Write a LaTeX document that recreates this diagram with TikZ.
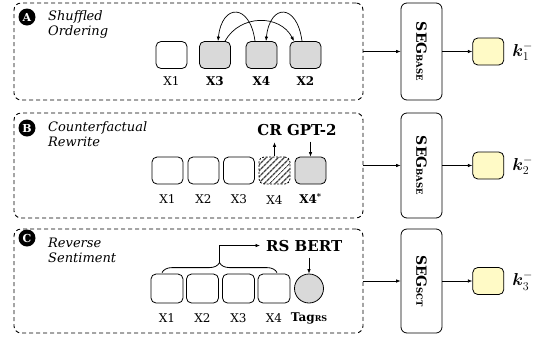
\documentclass[tikz,border=0pt]{standalone}
\usepackage{fontspec}
\setmainfont{DejaVu Serif}
\usepackage{amsmath}
\usepackage{bm}
\usetikzlibrary{calc, arrows.meta, positioning, patterns.meta, decorations.pathreplacing}
\definecolor{tokGray}{RGB}{217,217,217}
\definecolor{outYellow}{RGB}{255,250,198}
\tikzset{
	panelBox/.style={
		draw
		,line width=0.9pt
		,dash pattern=on 4pt off 3pt
		,rounded corners=7pt
		,inner sep=0pt
	},
	tokenBox/.style={
		draw
		,line width=0.8pt
		,rounded corners=5pt
		,minimum width=31pt
		,minimum height=27pt
		,inner sep=0pt
	},
	tokenGray/.style={tokenBox, fill=tokGray},
	tokenHatch/.style={
		tokenBox
		,dash pattern=on 2pt off 1.5pt
		,pattern={Lines[angle=45, distance=4pt, line width=1.5pt]}
		,pattern color=black!75
	},
	tagCircle/.style={
		draw
		,circle
		,line width=0.8pt
		,fill=tokGray
		,minimum size=29pt
		,inner sep=0pt
	},
	tokLabel/.style={
		font=\fontsize{12}{14}\selectfont
		,inner sep=0pt
	},
	badge/.style={
		circle
		,fill=black
		,text=white
		,font=\fontsize{11}{12}\selectfont\bfseries
		,minimum size=17pt
		,inner sep=0pt
	},
	titleText/.style={
		anchor=north west
		,align=left
		,inner sep=0pt
		,font=\fontsize{13}{15}\selectfont\itshape
	},
	modelText/.style={
		inner sep=0pt
		,font=\fontsize{15}{17}\selectfont\bfseries
	},
	segBox/.style={
		draw
		,line width=0.8pt
		,rounded corners=6pt
		,minimum width=41pt
		,inner sep=0pt
		,font=\fontsize{14}{16}\selectfont\bfseries
	},
	outBox/.style={
		draw
		,line width=0.8pt
		,rounded corners=5pt
		,fill=outYellow
		,minimum width=31pt
		,minimum height=27pt
		,inner sep=0pt
	},
	kLabel/.style={
		inner sep=0pt
		,font=\fontsize{17}{19}\selectfont
	},
}

\begin{document}
\begin{tikzpicture}[x=1pt, y=1pt
	, arr/.style={-{Latex[length=4.5pt, width=3.5pt]}, line width=0.7pt}
	]
\useasboundingbox (0,0) rectangle (546,-341);
% dashed panels
\node[panelBox, minimum width=349pt, minimum height=97pt] (panelA) at (188.5,-51.5) {};
\node[panelBox, minimum width=349pt, minimum height=105pt] (panelB) at (188.5,-165.5) {};
\node[panelBox, minimum width=349pt, minimum height=104pt] (panelC) at (188.5,-281) {};
\node[badge] (badgeA) at (27,-17) {A};
\node[badge] (badgeB) at (27,-128) {B};
\node[badge] (badgeC) at (27,-238) {C};
\node[titleText] (titleA) at (48,-10) {Shuffled\\Ordering};
\node[titleText] (titleB) at (48,-121) {Counterfactual\\Rewrite};
\node[titleText] (titleC) at (48,-238) {Reverse\\Sentiment};
% A: shuffled ordering
\node[tokenBox] (a1) at (171.5,-55) {};
\node[tokenGray] (a2) at (215,-55) {};
\node[tokenGray] (a3) at (261.5,-55) {};
\node[tokenGray] (a4) at (305.5,-55) {};
\node[tokLabel, below=16.5pt of a1, anchor=base] (la1) {X1};
\node[tokLabel, below=16.5pt of a2, anchor=base] (la2) {\textbf{X3}};
\node[tokLabel, below=16.5pt of a3, anchor=base] (la3) {\textbf{X4}};
\node[tokLabel, below=16.5pt of a4, anchor=base] (la4) {\textbf{X2}};
\draw[arr] ([xshift=-6.5pt]a3.north) .. controls +(-5,38) and +(4,38) .. ([xshift=3pt]a2.north);
\draw[arr] ([xshift=-3.5pt]a4.north) .. controls +(-5,38) and +(4,38) .. ([xshift=4.5pt]a3.north);
\draw[arr] ([xshift=10pt]a2.north) .. controls +(15,27) and +(-14,27) .. ([xshift=-11.5pt]a4.north);
% B: counterfactual rewrite
\node[tokenBox] (b1) at (167.5,-170.5) {};
\node[tokenBox] (b2) at (203.5,-170.5) {};
\node[tokenBox] (b3) at (239,-170.5) {};
\node[tokenHatch] (b4) at (274.5,-170.5) {};
\node[tokenGray] (b5) at (310.5,-170.5) {};
\node[tokLabel, below=19.5pt of b1, anchor=base] (lb1) {X1};
\node[tokLabel, below=19.5pt of b2, anchor=base] (lb2) {X2};
\node[tokLabel, below=19.5pt of b3, anchor=base] (lb3) {X3};
\node[tokLabel, below=19.5pt of b4, anchor=base] (lb4) {X4};
\node[tokLabel, below=19.5pt of b5, anchor=base] (lb5) {\textbf{X4\textsuperscript{*}}};
\node[modelText, anchor=base] (crGpt) at (297,-135) {CR GPT-2};
\coordinate (crUp) at ([yshift=14pt]b4.north);
\coordinate (crDown) at ([yshift=15pt]b5.north);
\draw[arr] (b4.north) -- (crUp);
\draw[arr] (crDown) -- (b5.north);
% C: reverse sentiment
\node[tokenBox, minimum width=32pt, minimum height=29pt] (c1) at (167,-288.5) {};
\node[tokenBox, minimum width=32pt, minimum height=29pt] (c2) at (202.5,-288.5) {};
\node[tokenBox, minimum width=32pt, minimum height=29pt] (c3) at (238.5,-288.5) {};
\node[tokenBox, minimum width=32pt, minimum height=29pt] (c4) at (274,-288.5) {};
\node[tagCircle] (cTag) at (309,-288.5) {};
\node[tokLabel, below=19pt of c1, anchor=base] (lc1) {X1};
\node[tokLabel, below=19pt of c2, anchor=base] (lc2) {X2};
\node[tokLabel, below=19pt of c3, anchor=base] (lc3) {X3};
\node[tokLabel, below=19pt of c4, anchor=base] (lc4) {X4};
\node[tokLabel, below=18.5pt of cTag, anchor=base] (lcTag) {\textbf{Tag{\fontsize{8}{9}\selectfont RS}}};
\node[modelText, anchor=base west] (rsBert) at (266,-251) {RS BERT};
\coordinate (braceL) at ([xshift=-5pt, yshift=1pt]c1.north);
\coordinate (braceR) at ([xshift=3pt, yshift=1pt]c4.north);
\draw[line width=0.8pt, decorate, decoration={brace, amplitude=10pt}] (braceL) -- (braceR);
\coordinate (braceTip) at ($(braceL)!0.5!(braceR)+(0,10)$);
\draw[arr] (braceTip) |- ([xshift=-6pt]rsBert.west);
\coordinate (rsDown) at ([yshift=16pt]cTag.north);
\draw[arr] (rsDown) -- (cTag.north);
% SEG models and outputs
\node[segBox, minimum height=97pt] (segA) at (421.5,-51.5) {\rotatebox{-90}{SEG{\fontsize{8.5}{9}\selectfont BASE}}};
\node[segBox, minimum height=105pt] (segB) at (421.5,-165.5) {\rotatebox{-90}{SEG{\fontsize{8.5}{9}\selectfont BASE}}};
\node[segBox, minimum height=104pt] (segC) at (421.5,-281) {\rotatebox{-90}{SEG{\fontsize{8.5}{9}\selectfont SCT}}};
\node[outBox, right=30pt of segA] (outA) {};
\node[outBox, right=30pt of segB] (outB) {};
\node[outBox, right=30pt of segC] (outC) {};
\node[kLabel, right=8pt of outA] (kA) {$\bm{k}^{-}_{1}$};
\node[kLabel, right=8pt of outB] (kB) {$\bm{k}^{-}_{2}$};
\node[kLabel, right=8pt of outC] (kC) {$\bm{k}^{-}_{3}$};
\draw[arr] (panelA) -- (segA);
\draw[arr] (panelB) -- (segB);
\draw[arr] (panelC) -- (segC);
\draw[arr] (segA) -- (outA);
\draw[arr] (segB) -- (outB);
\draw[arr] (segC) -- (outC);
\end{tikzpicture}
\end{document}
